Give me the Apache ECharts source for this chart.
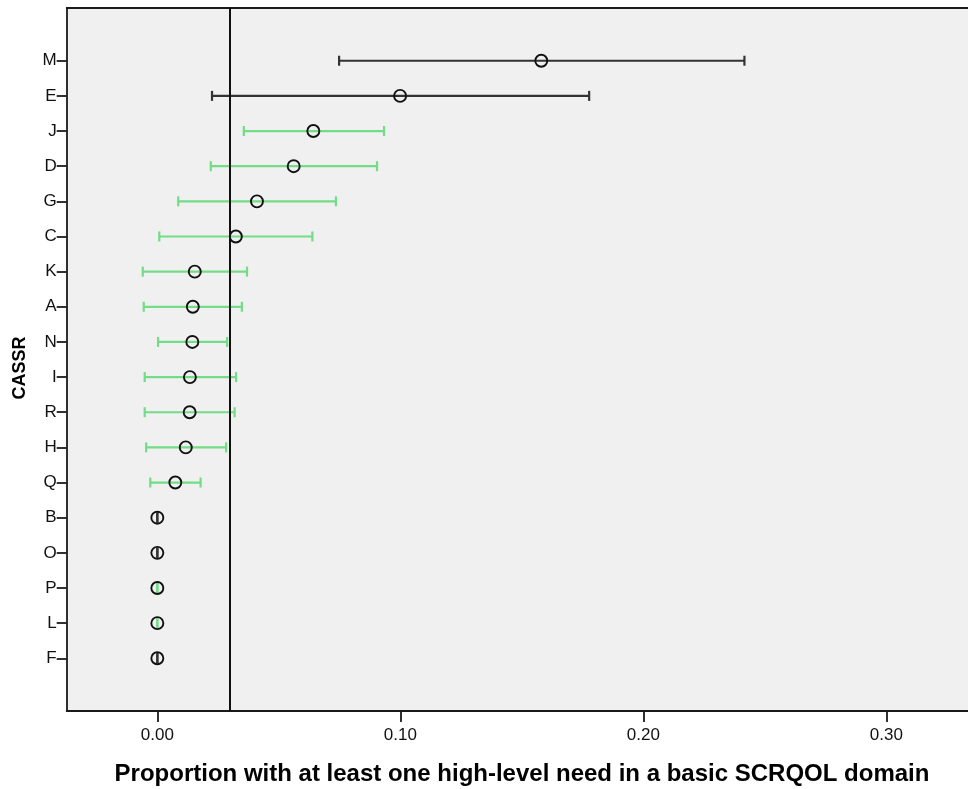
<!DOCTYPE html>
<html>
<head>
<meta charset="utf-8">
<script src="https://cdn.jsdelivr.net/npm/echarts@6/dist/echarts.min.js"></script>
<style>html,body{margin:0;padding:0;background:#fff;}#c{width:968px;height:789px;}</style>
</head>
<body>
<div id="c"></div>
<script>
const categories = ['M','E','J','D','G','C','K','A','N','I','R','H','Q','B','O','P','L','F'];
const means  = [0.158, 0.0999, 0.0642, 0.0561, 0.0410, 0.0323, 0.0154, 0.0146, 0.0144, 0.0134, 0.0133, 0.0117, 0.0074, 0, 0, 0, 0, 0];
const lower  = [0.0748, 0.0225, 0.0356, 0.0220, 0.0086, 0.0008, -0.0060, -0.0056, 0.0003, -0.0052, -0.0052, -0.0046, -0.0029, 0, 0, 0, 0, 0];
const upper  = [0.2416, 0.1777, 0.0933, 0.0904, 0.0735, 0.0638, 0.0369, 0.0348, 0.0287, 0.0324, 0.0318, 0.0283, 0.0178, 0, 0, 0, 0, 0];
const group  = ['outside','outside','within','within','within','within','within','within','within','within','within','within','within','outside','outside','within','within','outside'];
const refValue = 0.0301;
const xTickValues = [0, 0.1, 0.2, 0.3];
const xTitle = 'Proportion with at least one high-level need in a basic SCRQOL domain';
const yTitle = 'CASSR';

const groupColor = { outside: '#333333', within: '#72dc86' };
const yCats = [''].concat(categories, ['']);
const X_MIN = -0.0373, X_MAX = 0.3336;

const barData = categories.map((c, i) => [lower[i], upper[i], i + 1, group[i]]);
const pointData = categories.map((c, i) => [means[i], i + 1]);

const axisCol = '#1a1a1a';
const chart = echarts.init(document.getElementById('c'), null, { renderer: 'canvas' });
chart.setOption({
  backgroundColor: '#ffffff',
  animation: false,
  textStyle: { fontFamily: 'Liberation Sans, Arial, sans-serif' },
  grid: { left: 66.7, top: 8, right: 0, height: 703, show: true, backgroundColor: '#f0f0f0', borderWidth: 0 },
  xAxis: [{
    type: 'value', min: X_MIN, max: X_MAX, position: 'bottom',
    splitLine: { show: false },
    axisLine: { show: true, onZero: false, lineStyle: { color: axisCol, width: 1.8 } },
    axisTick: { show: true, length: 11, customValues: xTickValues, lineStyle: { color: axisCol, width: 1.8 } },
    axisLabel: { customValues: xTickValues, formatter: v => v.toFixed(2), fontSize: 17, color: '#111', margin: 16, fontFamily: 'Liberation Sans' }
  }, {
    type: 'value', min: X_MIN, max: X_MAX, position: 'top',
    splitLine: { show: false },
    axisLine: { show: true, onZero: false, lineStyle: { color: axisCol, width: 1.8 } },
    axisTick: { show: false }, axisLabel: { show: false }
  }],
  yAxis: {
    type: 'category', data: yCats, inverse: true, boundaryGap: true, position: 'left',
    axisLine: { show: true, onZero: false, lineStyle: { color: axisCol, width: 1.8 } },
    splitLine: { show: false },
    axisTick: { show: true, alignWithLabel: true, length: 10, interval: (idx, val) => val !== '', lineStyle: { color: axisCol, width: 1.8 } },
    axisLabel: { interval: 0, fontSize: 17, color: '#111', margin: 10, fontFamily: 'Liberation Sans' }
  },
  graphic: [{
    type: 'text', x: 20, y: 368, rotation: Math.PI / 2,
    style: { text: yTitle, font: 'bold 18px "Liberation Sans", Arial, sans-serif', fill: '#000', textAlign: 'center', textVerticalAlign: 'middle' }
  }, {
    type: 'text', x: 522, y: 774,
    style: { text: xTitle, font: 'bold 24px "Liberation Sans", Arial, sans-serif', fill: '#000', textAlign: 'center', textVerticalAlign: 'middle' }
  }],
  series: [
    {
      type: 'custom', z: 2,
      data: barData,
      encode: { x: [0, 1], y: 2 },
      renderItem: function (params, api) {
        const lo = api.coord([api.value(0), api.value(2)]);
        const hi = api.coord([api.value(1), api.value(2)]);
        const col = groupColor[barData[params.dataIndex][3]];
        const h = 5;
        const st = { stroke: col, lineWidth: 2.2 };
        return {
          type: 'group', children: [
            { type: 'line', shape: { x1: lo[0], y1: lo[1], x2: hi[0], y2: hi[1] }, style: st },
            { type: 'line', shape: { x1: lo[0], y1: lo[1] - h, x2: lo[0], y2: lo[1] + h }, style: st },
            { type: 'line', shape: { x1: hi[0], y1: hi[1] - h, x2: hi[0], y2: hi[1] + h }, style: st }
          ]
        };
      }
    },
    {
      type: 'scatter', z: 3,
      data: pointData,
      symbol: 'circle', symbolSize: 12,
      itemStyle: { color: 'rgba(0,0,0,0)', borderColor: '#111', borderWidth: 1.9, opacity: 1 },
      markLine: {
        silent: true, symbol: 'none', label: { show: false },
        lineStyle: { color: '#111', width: 2, type: 'solid' },
        data: [{ xAxis: refValue }]
      }
    }
  ]
});
</script>
</body>
</html>
